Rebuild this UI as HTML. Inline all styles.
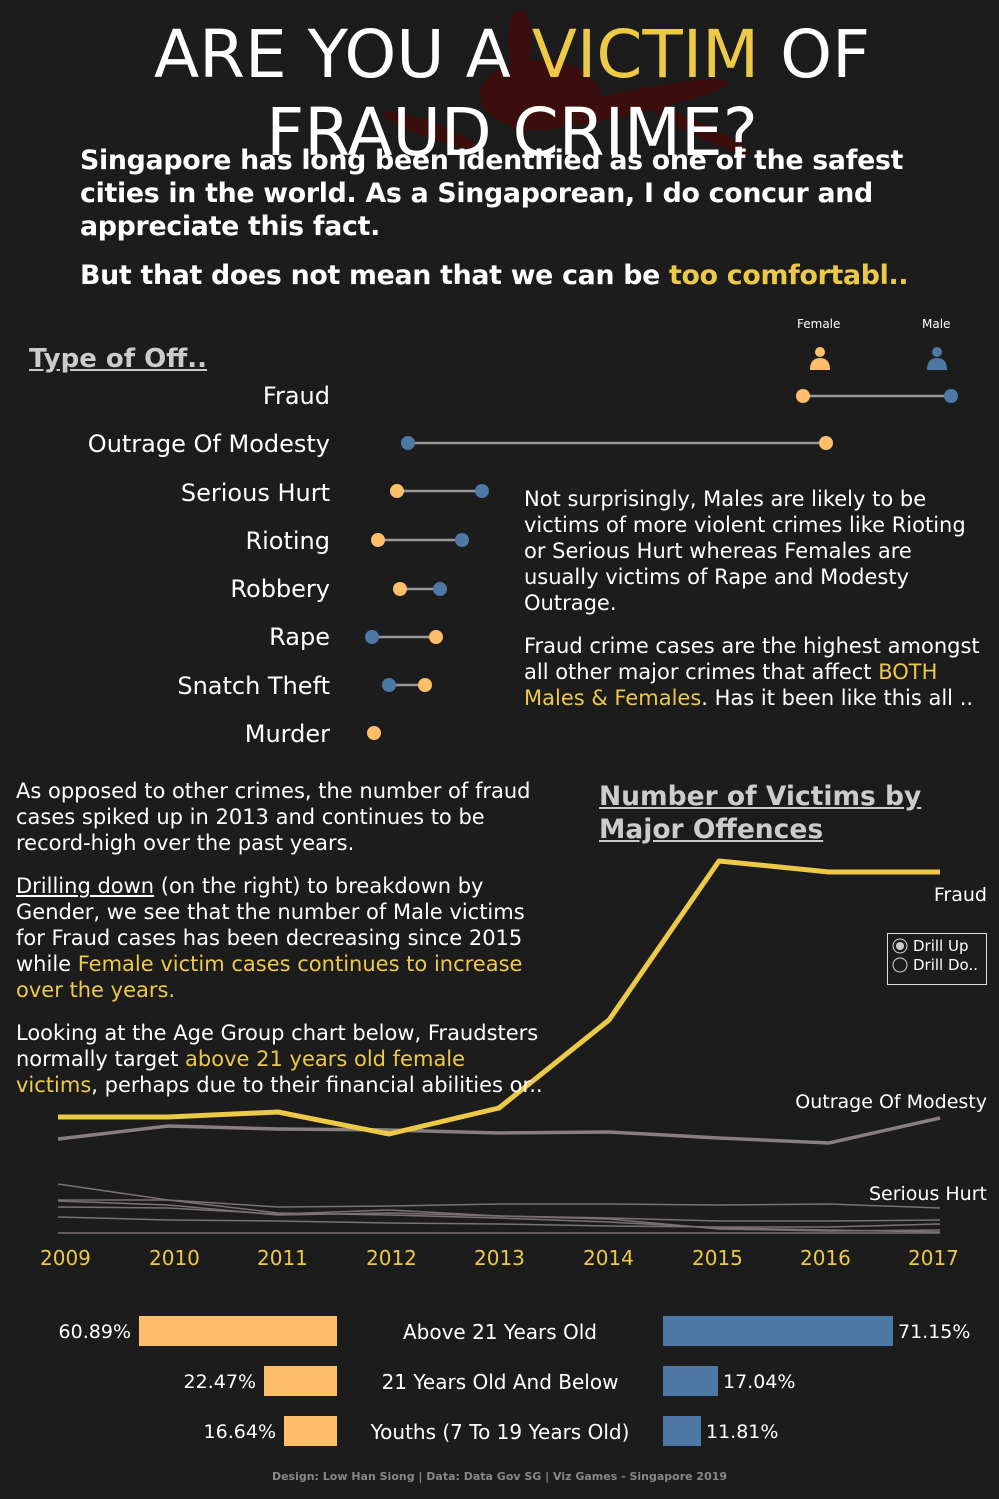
<!DOCTYPE html>
<html><head><meta charset="utf-8"><style>
body{margin:0;background:#1c1c1c;width:999px;height:1499px;overflow:hidden;font-family:"DejaVu Sans","Liberation Sans",sans-serif;color:#fff;position:relative}
.a{position:absolute;white-space:nowrap}
.y{color:#edc948}
</style></head><body>
<svg class="a" style="left:0;top:0" width="999" height="1499">
<g fill="#4a0808" opacity="0.7">
<ellipse cx="540" cy="95" rx="60" ry="35"/><ellipse cx="620" cy="105" rx="110" ry="12" transform="rotate(-12 620 105)"/>
<ellipse cx="430" cy="130" rx="50" ry="8" transform="rotate(20 430 130)"/><ellipse cx="700" cy="130" rx="55" ry="7" transform="rotate(25 700 130)"/>
<ellipse cx="520" cy="40" rx="12" ry="30"/>
</g>
<g stroke="#999" stroke-width="2.5">
<line x1="803" y1="396" x2="951" y2="396"/><line x1="408" y1="443" x2="826" y2="443"/>
<line x1="397" y1="491" x2="482" y2="491"/><line x1="378" y1="540" x2="462" y2="540"/>
<line x1="400" y1="589" x2="440" y2="589"/><line x1="372" y1="637" x2="436" y2="637"/>
<line x1="389" y1="685" x2="425" y2="685"/>
</g>
<g fill="#ffbe6a">
<circle cx="803" cy="396" r="7"/><circle cx="826" cy="443" r="7"/><circle cx="397" cy="491" r="7"/><circle cx="378" cy="540" r="7"/><circle cx="400" cy="589" r="7"/><circle cx="436" cy="637" r="7"/><circle cx="425" cy="685" r="7"/><circle cx="374" cy="733" r="7"/>
</g>
<g fill="#4e79a7">
<circle cx="951" cy="396" r="7"/><circle cx="408" cy="443" r="7"/><circle cx="482" cy="491" r="7"/><circle cx="462" cy="540" r="7"/><circle cx="440" cy="589" r="7"/><circle cx="372" cy="637" r="7"/><circle cx="389" cy="685" r="7"/>
</g>
<g fill="#ffbe6a"><circle cx="820" cy="352" r="5"/><path d="M810 370 Q810 358 820 358 Q830 358 830 370Z"/></g>
<g fill="#4e79a7"><circle cx="937" cy="352" r="5"/><path d="M927 370 Q927 358 937 358 Q947 358 947 370Z"/></g>
<g fill="none" stroke="#7a7272" stroke-width="1.5">
<polyline points="58,1184 168,1200 278,1213 389,1215 499,1218 609,1222 719,1228 829,1230 940,1232"/>
<polyline points="58,1200 168,1200 278,1207 389,1206 499,1204 609,1204 719,1205 829,1204 940,1208"/>
<polyline points="58,1207 168,1208 278,1214 389,1210 499,1216 609,1218 719,1221 829,1221 940,1220"/>
<polyline points="58,1201 168,1205 278,1215 389,1213 499,1216 609,1219 719,1229 829,1231 940,1230"/>
<polyline points="58,1217 168,1220 278,1221 389,1223 499,1224 609,1226 719,1227 829,1227 940,1224"/>
<polyline points="58,1233 940,1233"/>
</g>
<polyline fill="none" stroke="#8a7f7f" stroke-width="3.5" points="58,1139 168,1126 278,1129 389,1130 499,1133 609,1132 719,1138 829,1143 940,1118"/>
<polyline fill="none" stroke="#edc948" stroke-width="5" stroke-linejoin="round" points="58,1117 168,1117 278,1112 389,1134 499,1108 609,1020 719,861 829,872 940,872"/>
<g fill="#ffbe6a"><rect x="139" y="1316" width="198" height="30"/><rect x="264" y="1366" width="73" height="30"/><rect x="284" y="1416" width="53" height="30"/></g>
<g fill="#4e79a7"><rect x="663" y="1316" width="230" height="30"/><rect x="663" y="1366" width="55" height="30"/><rect x="663" y="1416" width="38" height="30"/></g>
<rect x="887.5" y="933.5" width="99" height="51" fill="none" stroke="#ddd"/>
<circle cx="900" cy="946" r="7" fill="none" stroke="#ddd"/><circle cx="900" cy="946" r="4" fill="#ccc"/>
<circle cx="900" cy="965" r="7" fill="none" stroke="#ddd"/>
</svg>

<div class="a" style="left:0;width:1024px;text-align:center;top:16px;font-size:66px;line-height:78px;white-space:normal">ARE YOU A <span class="y">VICTIM</span> OF<br>FRAUD CRIME?</div>
<div class="a" style="left:80px;top:144px;font-size:26.8px;font-weight:bold;line-height:33px;letter-spacing:-0.3px">Singapore has long been identified as one of the safest<br>cities in the world. As a Singaporean, I do concur and<br>appreciate this fact.</div>
<div class="a" style="left:80px;top:260px;font-size:26.8px;font-weight:bold;letter-spacing:-0.3px">But that does not mean that we can be <span class="y">too comfortabl..</span></div>

<div class="a" style="left:797px;top:317px;font-size:12px">Female</div>
<div class="a" style="left:922px;top:317px;font-size:12px">Male</div>
<div class="a" style="left:29px;top:344px;font-size:26px;font-weight:bold;color:#ccc;text-decoration:underline">Type of Off..</div>
<div class="a" style="right:669px;top:372px;font-size:24px;text-align:right;line-height:48.3px">Fraud<br>Outrage Of Modesty<br>Serious Hurt<br>Rioting<br>Robbery<br>Rape<br>Snatch Theft<br>Murder</div>

<div class="a" style="left:524px;top:486px;font-size:21px;line-height:26px">Not surprisingly, Males are likely to be<br>victims of more violent crimes like Rioting<br>or Serious Hurt whereas Females are<br>usually victims of Rape and Modesty<br>Outrage.</div>
<div class="a" style="left:524px;top:633px;font-size:21px;line-height:26px">Fraud crime cases are the highest amongst<br>all other major crimes that affect <span class="y">BOTH<br>Males &amp; Females</span>. Has it been like this all ..</div>

<div class="a" style="left:16px;top:778px;font-size:21px;line-height:26px">As opposed to other crimes, the number of fraud<br>cases spiked up in 2013 and continues to be<br>record-high over the past years.</div>
<div class="a" style="left:16px;top:873px;font-size:21px;line-height:26px"><u>Drilling down</u> (on the right) to breakdown by<br>Gender, we see that the number of Male victims<br>for Fraud cases has been decreasing since 2015<br>while <span class="y">Female victim cases continues to increase<br>over the years.</span></div>
<div class="a" style="left:16px;top:1020px;font-size:21px;line-height:26px">Looking at the Age Group chart below, Fraudsters<br>normally target <span class="y">above 21 years old female<br>victims</span>, perhaps due to their financial abilities or..</div>

<div class="a" style="left:599px;top:780px;font-size:26.5px;font-weight:bold;color:#ccc;text-decoration:underline;line-height:33px">Number of Victims by<br>Major Offences</div>
<div class="a" style="right:12px;top:884px;font-size:19px">Fraud</div>
<div class="a" style="left:913px;top:937px;font-size:15px;line-height:19px">Drill Up<br>Drill Do..</div>
<div class="a" style="right:12px;top:1091px;font-size:19px">Outrage Of Modesty</div>
<div class="a" style="right:12px;top:1183px;font-size:19px">Serious Hurt</div>
<div class="a y" style="left:40px;top:1246px;font-size:20px">2009</div>
<div class="a y" style="left:149px;top:1246px;font-size:20px">2010</div>
<div class="a y" style="left:257px;top:1246px;font-size:20px">2011</div>
<div class="a y" style="left:366px;top:1246px;font-size:20px">2012</div>
<div class="a y" style="left:474px;top:1246px;font-size:20px">2013</div>
<div class="a y" style="left:583px;top:1246px;font-size:20px">2014</div>
<div class="a y" style="left:692px;top:1246px;font-size:20px">2015</div>
<div class="a y" style="left:800px;top:1246px;font-size:20px">2016</div>
<div class="a y" style="left:908px;top:1246px;font-size:20px">2017</div>

<div class="a" style="right:868px;top:1321px;font-size:19px">60.89%</div>
<div class="a" style="right:743px;top:1371px;font-size:19px">22.47%</div>
<div class="a" style="right:723px;top:1421px;font-size:19px">16.64%</div>
<div class="a" style="left:898px;top:1321px;font-size:19px">71.15%</div>
<div class="a" style="left:723px;top:1371px;font-size:19px">17.04%</div>
<div class="a" style="left:706px;top:1421px;font-size:19px">11.81%</div>
<div class="a" style="left:340px;width:320px;text-align:center;top:1320px;font-size:20px">Above 21 Years Old</div>
<div class="a" style="left:340px;width:320px;text-align:center;top:1370px;font-size:20px">21 Years Old And Below</div>
<div class="a" style="left:340px;width:320px;text-align:center;top:1420px;font-size:20px">Youths (7 To 19 Years Old)</div>
<div class="a" style="left:0;width:999px;text-align:center;top:1470px;font-size:11px;font-weight:bold;color:#888">Design: Low Han Siong | Data: Data Gov SG | Viz Games - Singapore 2019</div>
</body></html>
